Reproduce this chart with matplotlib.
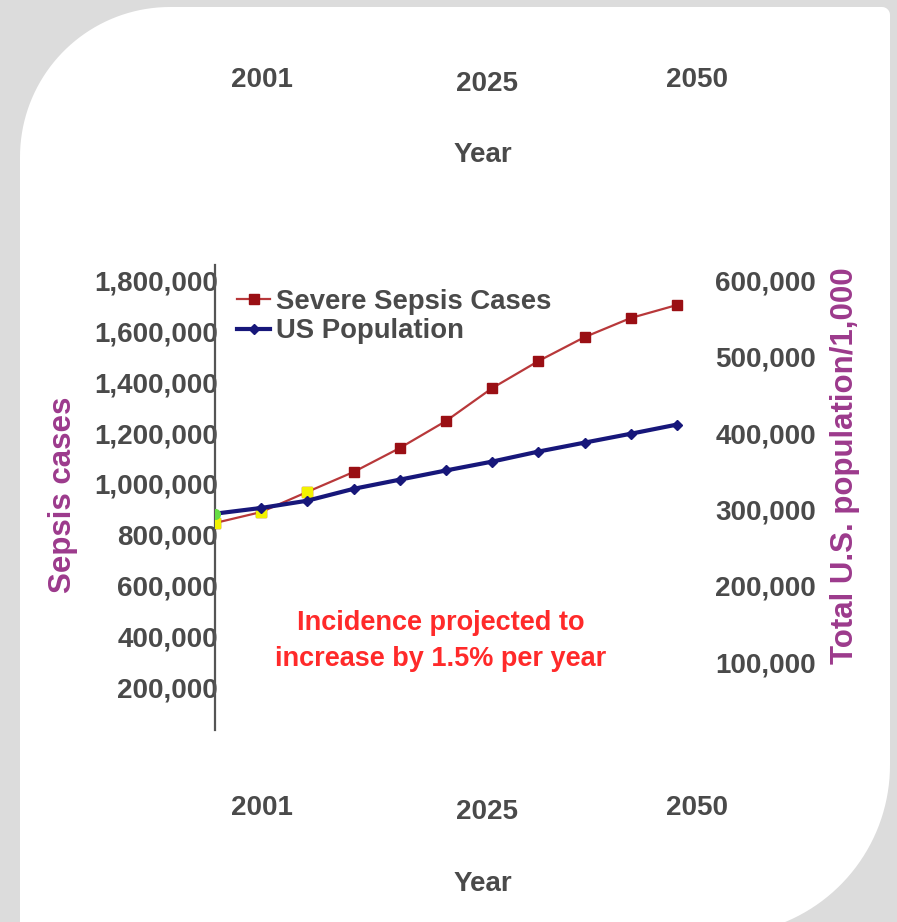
"""Severe sepsis cases vs US population, 2001-2050 projection (card-style figure)."""

import matplotlib

matplotlib.use("Agg")
import matplotlib.pyplot as plt
import numpy as np
from matplotlib.patches import PathPatch
from matplotlib.path import Path
from matplotlib.ticker import FuncFormatter

# --- data ---
points = list(range(11))  # 2001, 2005, 2010, ... 2050
sepsis_cases = [847000, 890000, 969000, 1047000, 1141000, 1247000,
                1376000, 1482000, 1576000, 1651000, 1702000]
us_population = [294500, 302000, 311500, 327000, 339000, 351000,
                 362600, 375700, 387400, 399000, 411000]
left_ticks = [200000, 400000, 600000, 800000, 1000000, 1200000,
              1400000, 1600000, 1800000]
right_ticks = [100000, 200000, 300000, 400000, 500000, 600000]
year_labels = ["2001", "2025", "2050"]
series_names = ["Severe Sepsis Cases", "US Population"]
note = "Incidence projected to\nincrease by 1.5% per year"

W, H = 897, 922
GRAY = "#4a4a4a"
PURPLE = "#9c3a8c"
FONT = ["Liberation Sans", "DejaVu Sans"]
FS = 20


def px(x, y):
    """image pixel -> figure fraction"""
    return x / W, 1 - y / H


def card_path():
    # white card: big rounded top-left and bottom-right corners
    pts = []
    r1, r2, r3 = 150, 8, 170
    left, top, right, bottom = 20, 7, 890, 935
    for a in np.linspace(np.pi, 1.5 * np.pi, 40):
        pts.append((left + r1 + r1 * np.cos(a), top + r1 + r1 * np.sin(a)))
    for a in np.linspace(1.5 * np.pi, 2 * np.pi, 10):
        pts.append((right - r2 + r2 * np.cos(a), top + r2 + r2 * np.sin(a)))
    for a in np.linspace(0, 0.5 * np.pi, 40):
        pts.append((right - r3 + r3 * np.cos(a), bottom - r3 + r3 * np.sin(a)))
    pts.append((left, bottom))
    pts.append(pts[0])
    return Path([px(x, y) for x, y in pts])


fig = plt.figure(figsize=(W / 100, H / 100), dpi=100)
fig.patch.set_facecolor("#dcdcdc")
fig.patches.append(PathPatch(card_path(), transform=fig.transFigure,
                             facecolor="white", edgecolor="none", zorder=-10))

x0, y0 = px(215, 730)
x1, y1 = px(700, 265)
ax = fig.add_axes([x0, y0, x1 - x0, y1 - y0])
ax.set_facecolor("none")
ax2 = ax.twinx()
ax.set_zorder(1)
ax2.set_zorder(2)

ax.set_xlim(0, 10.5)
ax.set_ylim(35000, 1859000)
ax2.set_ylim(35000 / 3, 1859000 / 3)

ln1, = ax.plot(points, sepsis_cases, color="#b8383a", lw=1.6, marker="s",
               ms=7, mfc="#9a0f14", mec="#9a0f14", zorder=3)
ln2, = ax2.plot(points, us_population, color="#17177a", lw=3, marker="D",
                ms=5, mfc="#17177a", mec="#17177a", zorder=4)
# highlighted markers at the start of the series
ax.plot(points[:3], sepsis_cases[:3], "s", ms=7, color="#f2f200", zorder=4)
ax2.plot(points[:1], us_population[:1], "o", ms=7, color="#66dd44", zorder=5)

for a in (ax, ax2):
    for s in a.spines.values():
        s.set_visible(False)
    a.set_xticks([])
ax.spines["left"].set_visible(True)
ax.spines["left"].set_color("#555555")
ax.spines["left"].set_linewidth(1.6)

fmt = FuncFormatter(lambda v, _: f"{int(v):,}")
ax.set_yticks(left_ticks)
ax.yaxis.set_major_formatter(fmt)
ax.tick_params(axis="y", length=0, pad=-2)
ax2.set_yticks(right_ticks)
ax2.yaxis.set_major_formatter(fmt)
ax2.tick_params(axis="y", length=0, pad=11)
for lab in ax.get_yticklabels() + ax2.get_yticklabels():
    lab.set_fontfamily(FONT)
    lab.set_fontweight("bold")
    lab.set_fontsize(FS)
    lab.set_color(GRAY)

leg = ax2.legend([ln1, ln2], series_names, loc="upper left",
                 bbox_to_anchor=(0.035, 0.96), frameon=False,
                 borderaxespad=0, borderpad=0.2,
                 handlelength=1.2, handletextpad=0.2, labelspacing=0.12,
                 prop={"family": FONT, "weight": "bold", "size": 19.8})
for t in leg.get_texts():
    t.set_color(GRAY)

# year labels above and below the chart
year_x = [262, 487, 697]
year_dy = [0, 4, 0]
for base, title_y in ((80, 155), (808, 884)):
    for lab, xx, dy in zip(year_labels, year_x, year_dy):
        fig.text(*px(xx, base + dy), lab, ha="center", va="center",
                 family=FONT, weight="bold", size=FS, color=GRAY)
    fig.text(*px(483, title_y), "Year", ha="center", va="center",
             family=FONT, weight="bold", size=FS, color=GRAY)

fig.text(*px(63, 495), "Sepsis cases", rotation=90, ha="center",
         va="center", family=FONT, weight="bold", size=22.5, color=PURPLE)
fig.text(*px(845, 466), "Total U.S. population/1,000", rotation=90,
         ha="center", va="center", family=FONT, weight="bold", size=22.5,
         color=PURPLE)

fig.text(*px(441, 641), note, ha="center", va="center", family=FONT,
         weight="bold", size=19.5, color="#ff2a2a", linespacing=1.5)

fig.savefig("out.png", dpi=100, facecolor=fig.get_facecolor())
